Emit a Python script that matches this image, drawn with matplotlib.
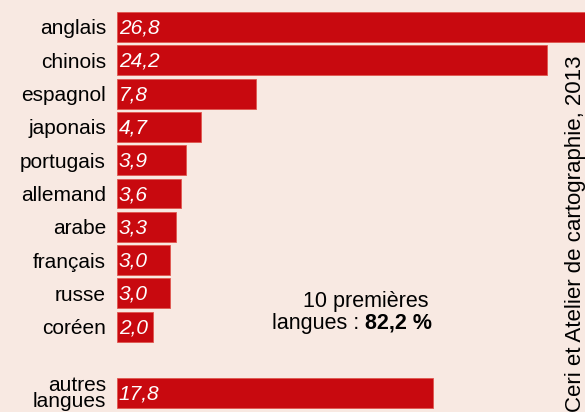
import matplotlib.pyplot as plt

# langues les plus utilisées sur Internet (% des internautes)
langues = ["anglais", "chinois", "espagnol", "japonais", "portugais",
           "allemand", "arabe", "français", "russe", "coréen", "autres\nlangues"]
parts = [26.8, 24.2, 7.8, 4.7, 3.9, 3.6, 3.3, 3.0, 3.0, 2.0, 17.8]
positions = [0, 1, 2, 3, 4, 5, 6, 7, 8, 9, 11]

fond = "#F8E9E2"
rouge = "#C8090F"
plt.rcParams["font.family"] = ["Liberation Sans", "DejaVu Sans"]
taille = 15

fig = plt.figure(figsize=(5.85, 4.12), dpi=100, facecolor=fond)
ax = fig.add_axes([117 / 585, 0, 1 - 117 / 585, 1])
ax.set_facecolor(fond)

ax.barh(positions, parts, height=0.9, color=rouge, edgecolor="#E0574F", linewidth=0.6)
for p, v in zip(positions, parts):
    ax.text(0.1, p + 0.03, f"{v:.1f}".replace(".", ","), color="white", style="italic",
            fontsize=taille, va="center", ha="left")

ax.set_xlim(0, 26.34)
ax.set_ylim(11.56, -0.81)
ax.set_yticks(positions)
ax.set_yticklabels(langues, fontsize=taille, linespacing=0.75)
ax.tick_params(axis="y", length=0, pad=8)
ax.set_xticks([])
for s in ax.spines.values():
    s.set_visible(False)

# encadré total
fig.text(429 / 585, 1 - 301 / 412, "10 premières", ha="right", va="center", fontsize=15.5)
gras = fig.text(432 / 585, 1 - 323 / 412, "82,2 %", ha="right", va="center",
                fontsize=15.5, fontweight="bold")
r = fig.canvas.get_renderer()
bb = gras.get_window_extent(renderer=r)
fig.text(bb.x0 / fig.bbox.width, 1 - 323 / 412, "langues : ", ha="right", va="center",
         fontsize=15.5)

fig.text(575 / 585, 1 - 55 / 412, "Ceri et Atelier de cartographie, 2013", rotation=90,
         ha="center", va="top", fontsize=16)

fig.savefig("out.png", dpi=100, facecolor=fond)
